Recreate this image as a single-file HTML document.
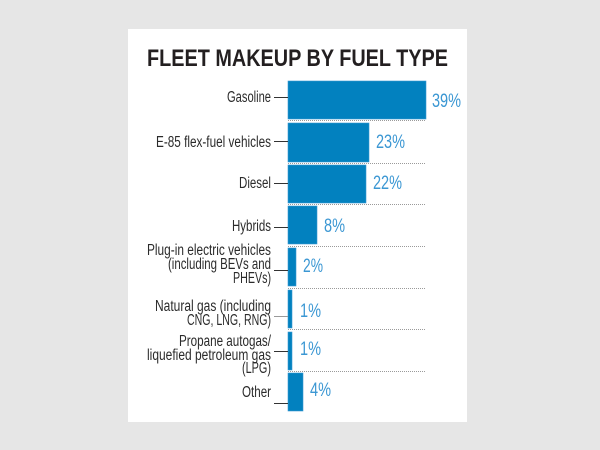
<!DOCTYPE html>
<html>
<head>
<meta charset="utf-8">
<style>
html,body{margin:0;padding:0;background:#e6e6e6;}
svg{display:block;}
</style>
</head>
<body>
<svg width="600" height="450" viewBox="0 0 600 450" xmlns="http://www.w3.org/2000/svg">
<rect x="0" y="0" width="600" height="450" fill="#e6e6e6"/>
<rect x="128" y="29" width="339" height="393" fill="#ffffff"/>
<text x="147" y="66" font-family="Liberation Sans, sans-serif" font-weight="bold" font-size="24" fill="#231f20" textLength="301" lengthAdjust="spacingAndGlyphs">FLEET MAKEUP BY FUEL TYPE</text>

<g fill="#0281bf" stroke="#3a9ad3" stroke-width="0.6">
<rect x="288" y="81" width="138" height="38"/>
<rect x="288" y="123" width="81" height="39"/>
<rect x="288" y="165" width="78" height="38"/>
<rect x="288" y="206" width="29" height="38"/>
<rect x="288" y="248" width="8" height="38"/>
<rect x="288" y="290" width="4" height="38"/>
<rect x="288" y="332" width="4" height="38"/>
<rect x="288" y="373" width="15" height="38"/>
</g>

<g stroke="#9a9a9a" stroke-width="1" stroke-dasharray="1,1">
<line x1="288" y1="120.5" x2="425" y2="120.5"/>
<line x1="288" y1="163.5" x2="425" y2="163.5"/>
<line x1="288" y1="204.5" x2="425" y2="204.5"/>
<line x1="288" y1="246.5" x2="425" y2="246.5"/>
<line x1="288" y1="288.5" x2="425" y2="288.5"/>
<line x1="288" y1="329.5" x2="425" y2="329.5"/>
<line x1="288" y1="371.5" x2="425" y2="371.5"/>
</g>

<g stroke="#333333" stroke-width="1">
<line x1="274" y1="97.5" x2="288" y2="97.5"/>
<line x1="274" y1="141.5" x2="288" y2="141.5"/>
<line x1="274" y1="183.5" x2="288" y2="183.5"/>
<line x1="274" y1="227.5" x2="288" y2="227.5"/>
<line x1="274" y1="270.5" x2="288" y2="270.5"/>
<line x1="274" y1="316.5" x2="288" y2="316.5" stroke="#9a9a9a"/>
<line x1="274" y1="351.5" x2="288" y2="351.5"/>
<line x1="274" y1="403.5" x2="288" y2="403.5"/>
</g>

<g font-family="Liberation Sans, sans-serif" font-size="15.5" fill="#2b2b2b">
<text x="227" y="102" textLength="44" lengthAdjust="spacingAndGlyphs">Gasoline</text>
<text x="156" y="147" textLength="115" lengthAdjust="spacingAndGlyphs">E-85 flex-fuel vehicles</text>
<text x="239" y="188" textLength="32" lengthAdjust="spacingAndGlyphs">Diesel</text>
<text x="232" y="231" textLength="39" lengthAdjust="spacingAndGlyphs">Hybrids</text>
<text x="147" y="255" textLength="124" lengthAdjust="spacingAndGlyphs">Plug-in electric vehicles</text>
<text x="168" y="269" textLength="103" lengthAdjust="spacingAndGlyphs">(including BEVs and</text>
<text x="233" y="283" textLength="38" lengthAdjust="spacingAndGlyphs">PHEVs)</text>
<text x="155" y="311" textLength="116" lengthAdjust="spacingAndGlyphs">Natural gas (including</text>
<text x="187" y="325" textLength="84" lengthAdjust="spacingAndGlyphs">CNG, LNG, RNG)</text>
<text x="179" y="346" textLength="92" lengthAdjust="spacingAndGlyphs">Propane autogas/</text>
<text x="147" y="360" textLength="124" lengthAdjust="spacingAndGlyphs">liquefied petroleum gas</text>
<text x="242" y="373" textLength="29" lengthAdjust="spacingAndGlyphs">(LPG)</text>
<text x="242" y="397" textLength="29" lengthAdjust="spacingAndGlyphs">Other</text>
</g>

<g font-family="Liberation Sans, sans-serif" font-size="19.5" fill="#3b97d3">
<text x="432" y="107" textLength="29" lengthAdjust="spacingAndGlyphs">39%</text>
<text x="376" y="148" textLength="29" lengthAdjust="spacingAndGlyphs">23%</text>
<text x="373" y="189" textLength="29" lengthAdjust="spacingAndGlyphs">22%</text>
<text x="324" y="232" textLength="21" lengthAdjust="spacingAndGlyphs">8%</text>
<text x="303" y="272" textLength="20" lengthAdjust="spacingAndGlyphs">2%</text>
<text x="300" y="317" textLength="21" lengthAdjust="spacingAndGlyphs">1%</text>
<text x="300" y="355" textLength="21" lengthAdjust="spacingAndGlyphs">1%</text>
<text x="310" y="396" textLength="21" lengthAdjust="spacingAndGlyphs">4%</text>
</g>
</svg>
</body>
</html>
